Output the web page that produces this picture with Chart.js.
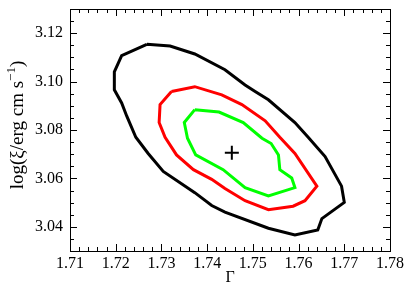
<!DOCTYPE html>
<html>
<head>
<meta charset="utf-8">
<script src="https://cdn.jsdelivr.net/npm/chart.js@4/dist/chart.umd.min.js"></script>
<style>
  html, body { margin: 0; padding: 0; background: #fff; }
  #wrap { width: 411px; height: 302px; }
</style>
</head>
<body>
<div id="wrap"><canvas id="contourCanvas" width="411" height="302"></canvas></div>
<script>
// confidence contours in the Gamma / log(xi) plane
const outerGamma = [1.7268, 1.7319, 1.7373, 1.7439, 1.7483, 1.7505, 1.7534, 1.7592, 1.7621, 1.7658, 1.7694, 1.7700, 1.7651, 1.7642, 1.7592, 1.7534, 1.7439, 1.7410, 1.7373, 1.7304, 1.7271, 1.7244, 1.7224, 1.7213, 1.7197, 1.7197, 1.7213, 1.7268];
const outerLogXi = [3.1154, 3.1147, 3.1114, 3.1049, 3.0986, 3.0959, 3.0925, 3.0831, 3.0770, 3.0690, 3.0568, 3.0501, 3.0434, 3.0387, 3.0366, 3.0394, 3.0461, 3.0488, 3.0541, 3.0629, 3.0703, 3.0770, 3.0858, 3.0912, 3.0966, 3.1040, 3.1107, 3.1154];

const midGamma = [1.7322, 1.7373, 1.7432, 1.7476, 1.7527, 1.7559, 1.7592, 1.7640, 1.7614, 1.7588, 1.7534, 1.7483, 1.7439, 1.7410, 1.7370, 1.7333, 1.7308, 1.7295, 1.7297, 1.7322];
const midLogXi = [3.0959, 3.0979, 3.0945, 3.0905, 3.0838, 3.0770, 3.0703, 3.0568, 3.0508, 3.0485, 3.0471, 3.0508, 3.0558, 3.0596, 3.0636, 3.0697, 3.0770, 3.0831, 3.0905, 3.0959];

const innerGamma = [1.7373, 1.7426, 1.7479, 1.7520, 1.7540, 1.7556, 1.7559, 1.7585, 1.7592, 1.7534, 1.7483, 1.7435, 1.7375, 1.7357, 1.7350, 1.7373];
const innerLogXi = [3.0884, 3.0874, 3.0831, 3.0766, 3.0744, 3.0697, 3.0636, 3.0602, 3.0562, 3.0528, 3.0562, 3.0636, 3.0697, 3.0766, 3.0831, 3.0884];

const bestGamma = [1.7454];
const bestLogXi = [3.0706];

const xTicks = [1.71, 1.72, 1.73, 1.74, 1.75, 1.76, 1.77, 1.78];
const yTicks = [3.04, 3.06, 3.08, 3.10, 3.12];
const xMinorStep = 0.002;
const yMinorStep = 0.005;

function toPoints(xs, ys) {
    return xs.map((x, i) => ({ x: x, y: ys[i] }));
}

const serif = "'Liberation Serif', 'DejaVu Serif', serif";

// inward ticks on all four sides, plus the frame
const frameTicks = {
    id: 'frameTicks',
    afterDraw(chart) {
        const { ctx, chartArea: a, scales } = chart;
        const sx = scales.x, sy = scales.y;
        ctx.save();
        ctx.strokeStyle = '#000';
        ctx.lineWidth = 1;
        ctx.strokeRect(a.left + 0.5, a.top + 0.5, a.right - a.left, a.bottom - a.top);
        ctx.beginPath();
        const nx = Math.round((sx.max - sx.min) / xMinorStep);
        for (let i = 0; i <= nx; i++) {
            const v = sx.min + i * xMinorStep;
            const major = xTicks.some(t => Math.abs(t - v) < 1e-6);
            const len = major ? 7 : 4;
            const px = Math.round(sx.getPixelForValue(v)) + 0.5;
            ctx.moveTo(px, a.bottom); ctx.lineTo(px, a.bottom - len);
            ctx.moveTo(px, a.top); ctx.lineTo(px, a.top + len);
        }
        const ny = Math.round((sy.max - sy.min) / yMinorStep);
        for (let i = 0; i <= ny; i++) {
            const v = sy.min + i * yMinorStep;
            const major = yTicks.some(t => Math.abs(t - v) < 1e-6);
            const len = major ? 7 : 4;
            const py = Math.round(sy.getPixelForValue(v)) + 0.5;
            ctx.moveTo(a.left, py); ctx.lineTo(a.left + len, py);
            ctx.moveTo(a.right, py); ctx.lineTo(a.right - len, py);
        }
        ctx.stroke();

        // y axis title with a real superscript
        const parts = [
            { t: 'log(ξ/erg cm s', size: 19, rise: 0 },
            { t: '−1', size: 13, rise: 8 },
            { t: ')', size: 19, rise: 0 }
        ];
        let total = 0;
        parts.forEach(p => {
            ctx.font = p.size + 'px ' + serif;
            p.w = ctx.measureText(p.t).width;
            total += p.w;
        });
        ctx.translate(23, (a.top + a.bottom) / 2 - 5);
        ctx.rotate(-Math.PI / 2);
        ctx.fillStyle = '#000';
        ctx.textBaseline = 'alphabetic';
        ctx.textAlign = 'left';
        let cx = -total / 2;
        parts.forEach(p => {
            ctx.font = p.size + 'px ' + serif;
            ctx.fillText(p.t, cx, -p.rise);
            cx += p.w;
        });
        ctx.restore();
    }
};

const ctx = document.getElementById('contourCanvas').getContext('2d');
const chart = new Chart(ctx, {
    type: 'scatter',
    data: {
        datasets: [
            {
                data: toPoints(outerGamma, outerLogXi),
                showLine: true, borderColor: '#000000', borderWidth: 3,
                pointRadius: 0, tension: 0
            },
            {
                data: toPoints(midGamma, midLogXi),
                showLine: true, borderColor: '#ff0000', borderWidth: 3,
                pointRadius: 0, tension: 0
            },
            {
                data: toPoints(innerGamma, innerLogXi),
                showLine: true, borderColor: '#00ff00', borderWidth: 3,
                pointRadius: 0, tension: 0
            },
            {
                data: toPoints(bestGamma, bestLogXi),
                pointStyle: 'cross', pointRadius: 7, borderColor: '#000', borderWidth: 2
            }
        ]
    },
    options: {
        responsive: false,
        animation: false,
        layout: { padding: { left: 0, right: 21, top: 4, bottom: 0 } },
        plugins: { legend: { display: false }, tooltip: { enabled: false } },
        scales: {
            x: {
                type: 'linear',
                position: 'bottom',
                min: 1.71,
                max: 1.78,
                grid: { display: false, drawTicks: false },
                border: { display: false },
                afterBuildTicks: s => { s.ticks = xTicks.map(v => ({ value: v })); },
                afterFit: s => { s.height = 51; s.paddingLeft = 0; s.paddingRight = 0; },
                ticks: {
                    padding: 3,
                    maxRotation: 0,
                    color: '#000',
                    font: { family: serif, size: 16 },
                    callback: v => Number(v).toFixed(2)
                },
                title: {
                    display: true,
                    text: 'Γ',
                    color: '#000',
                    font: { family: serif, size: 16 },
                    padding: { top: 0, bottom: 15 }
                }
            },
            y: {
                type: 'linear',
                min: 3.03,
                max: 3.13,
                grid: { display: false, drawTicks: false },
                border: { display: false },
                afterBuildTicks: s => { s.ticks = yTicks.map(v => ({ value: v })); },
                afterFit: s => { s.width = 70; s.paddingTop = 0; s.paddingBottom = 0; },
                ticks: {
                    padding: 7,
                    color: '#000',
                    font: { family: serif, size: 16 },
                    callback: v => Number(v).toFixed(2)
                },
                title: { display: false }
            }
        }
    },
    plugins: [frameTicks]
});
</script>
</body>
</html>
